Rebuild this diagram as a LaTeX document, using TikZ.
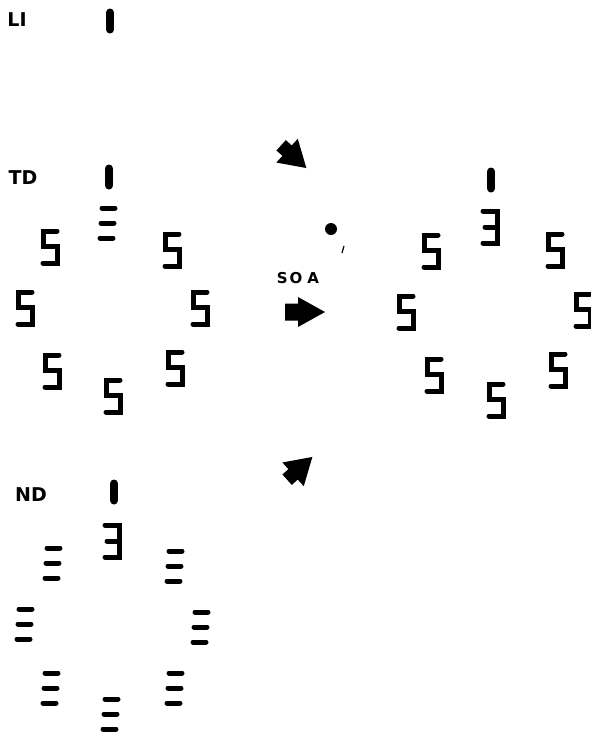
\documentclass[tikz,border=0pt]{standalone}
\usepackage{fontspec}
\usepackage{tikz}
\newfontfamily\lblfont{DejaVu Sans}
\tikzset{
  seg/.style={line width=5pt, line cap=round},
  segone/.style={line width=8pt, line cap=round},
  lbl/.style={inner sep=0pt, font=\lblfont\bfseries\fontsize{19}{19}\selectfont},
  pics/dfive/.style={code={\draw[seg] (7,-16) -- (-7,-16) -- (-7,-1) -- (7,-1) -- (7,16) -- (-7,16);}},
  pics/dthree/.style={code={\draw[seg] (-7,-16) -- (7,-16) -- (7,16) -- (-7,16); \draw[seg] (-5,0) -- (7,0);}},
  pics/dbars/.style={code={\draw[seg] (-6,-15) -- (7,-15) (-7,0) -- (6,0) (-8,15) -- (5,15);}},
  pics/done/.style={code={\draw[segone] (0,-8.5) -- (0,8.5);}},
  pics/blockarr/.style={code={\fill (-20,-8.5) -- (-7,-8.5) -- (-7,-15) -- (20,0) -- (-7,15) -- (-7,8.5) -- (-20,8.5) -- cycle;}},
  pics/diagarr/.style={code={\fill (-16,-7) -- (-8,-7) -- (-8,-16) -- (18,0) -- (-8,16) -- (-8,7) -- (-16,7) -- cycle;}},
}

\begin{document}
\begin{tikzpicture}[x=1pt, y=-1pt]
  \useasboundingbox (0,0) rectangle (591,737);
  % LI
  \node[lbl] (li) at (17,20) {LI};
  \pic (liOne) at (110,21) {done};
  % TD
  \node[lbl] (td) at (23,178) {TD};
  \pic (tdOne) at (109,177) {done};
  \pic (tdMid) at (108,223) {dbars};
  \pic (tdA) at (50,247) {dfive};
  \pic (tdB) at (172,250) {dfive};
  \pic (tdC) at (25,308) {dfive};
  \pic (tdD) at (200,308) {dfive};
  \pic (tdE) at (52,371) {dfive};
  \pic (tdF) at (175,368) {dfive};
  \pic (tdG) at (113,396) {dfive};
  % SOA and arrows
  \node[lbl, font=\lblfont\bfseries\fontsize{15}{15}\selectfont] (soa) at (298,278) {S\kern2pt O\kern5pt A};
  \pic[rotate=-42] (arrTop) at (293,156) {diagarr};
  \pic (arrMid) at (305,312) {blockarr};
  \pic[rotate=42] (arrBot) at (299,469) {diagarr};
  \fill (331,229) circle (6);
  \draw[line width=1.2pt] (344,246) -- (342,253);
  % right display
  \pic (rtOne) at (491,180) {done};
  \pic (rtMid) at (490,227) {dthree};
  \pic (rtA) at (431,251) {dfive};
  \pic (rtB) at (555,250) {dfive};
  \pic (rtC) at (406,312) {dfive};
  \pic (rtD) at (583,310) {dfive};
  \pic (rtE) at (434,375) {dfive};
  \pic (rtF) at (558,370) {dfive};
  \pic (rtG) at (496,400) {dfive};
  % ND
  \node[lbl] (nd) at (31,495) {ND};
  \pic (ndOne) at (114,492) {done};
  \pic (ndMid) at (112,541) {dthree};
  \pic (ndA) at (53,563) {dbars};
  \pic (ndB) at (175,566) {dbars};
  \pic (ndC) at (25,624) {dbars};
  \pic (ndD) at (201,627) {dbars};
  \pic (ndE) at (51,688) {dbars};
  \pic (ndF) at (175,688) {dbars};
  \pic (ndG) at (111,714) {dbars};
\end{tikzpicture}
\end{document}
